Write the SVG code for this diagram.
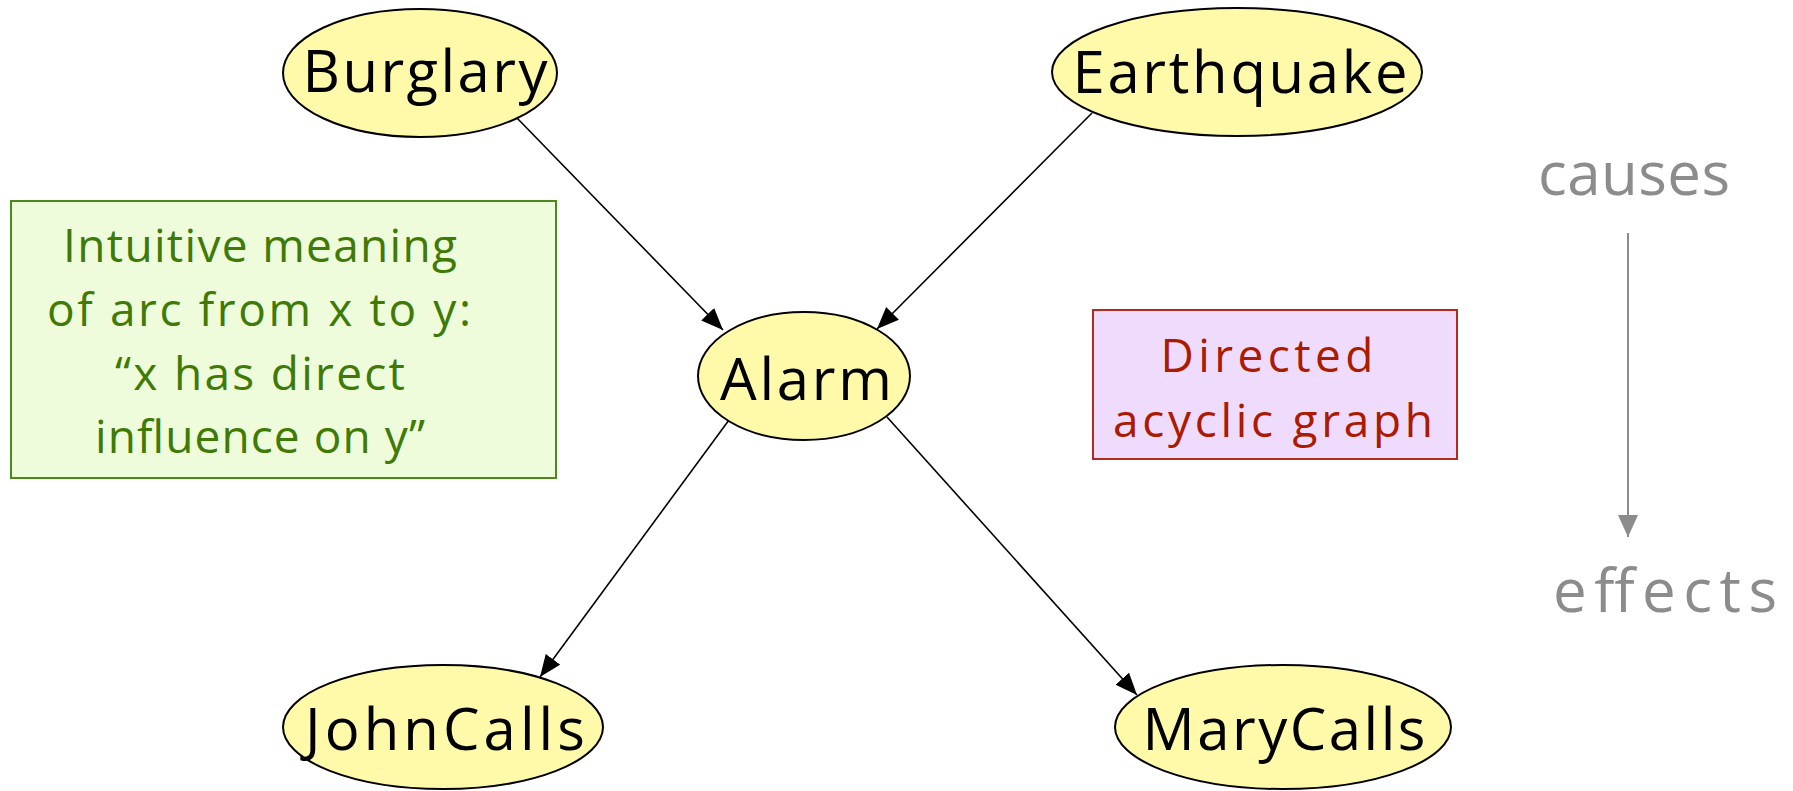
<svg xmlns="http://www.w3.org/2000/svg" width="1793" height="791" viewBox="0 0 1793 791">
  <style>
    .node { fill: #fffaaa; stroke: #000; stroke-width: 2; }
    .label { font-family: "Open Sans", "Liberation Sans", sans-serif; font-size: 58px; fill: #000; text-anchor: middle; }
    .edge { stroke: #000; stroke-width: 1.6; fill: none; marker-end: url(#arrow); }
    .note-green { fill: #eefcdc; stroke: #4a8a1a; stroke-width: 2; }
    .note-green-text { font-family: "Open Sans", "Liberation Sans", sans-serif; font-size: 46px; fill: #3f7a05; text-anchor: middle; }
    .note-red { fill: #efdcfd; stroke: #b42a1e; stroke-width: 2; }
    .note-red-text { font-family: "Open Sans", "Liberation Sans", sans-serif; font-size: 46px; fill: #ac1a00; text-anchor: middle; }
    .axis-text { font-family: "Open Sans", "Liberation Sans", sans-serif; font-size: 60px; fill: #8c8c8c; text-anchor: middle; }
    .axis { stroke: #8c8c8c; stroke-width: 2; fill: none; marker-end: url(#arrow-grey); }
  </style>
  <defs>
    <marker id="arrow" markerUnits="userSpaceOnUse" markerWidth="24" markerHeight="20" refX="22" refY="9" orient="auto">
      <path d="M0,0 L22,9 L0,18 Z" fill="#000"/>
    </marker>
    <marker id="arrow-grey" markerUnits="userSpaceOnUse" markerWidth="24" markerHeight="22" refX="22" refY="10" orient="auto">
      <path d="M0,0 L22,10 L0,20 Z" fill="#8c8c8c"/>
    </marker>
  </defs>

  <!-- arcs of the network -->
  <g id="connectors">
    <line class="edge" x1="517" y1="118" x2="723" y2="330"/>
    <line class="edge" x1="1092" y1="113" x2="877" y2="329"/>
    <line class="edge" x1="729" y1="420" x2="540" y2="677"/>
    <line class="edge" x1="887" y1="417" x2="1137" y2="695"/>
  </g>

  <g id="burglary">
    <ellipse class="node" cx="420" cy="73" rx="137" ry="64"/>
    <text class="label" x="425" y="92" textLength="245">Burglary</text>
  </g>
  <g id="earthquake">
    <ellipse class="node" cx="1237" cy="72" rx="185" ry="64"/>
    <text class="label" x="1240" y="93" textLength="335">Earthquake</text>
  </g>
  <g id="alarm">
    <ellipse class="node" cx="804" cy="376" rx="106" ry="64"/>
    <text class="label" x="806" y="400" textLength="172">Alarm</text>
  </g>
  <g id="johncalls">
    <ellipse class="node" cx="443" cy="727" rx="160" ry="62"/>
    <text class="label" x="445" y="750" textLength="280">JohnCalls</text>
  </g>
  <g id="marycalls">
    <ellipse class="node" cx="1283" cy="727" rx="168" ry="62"/>
    <text class="label" x="1284" y="750" textLength="283">MaryCalls</text>
  </g>

  <g id="meaning-note">
    <rect class="note-green" x="11" y="201" width="545" height="277"/>
    <text class="note-green-text" x="260" y="262" textLength="394">Intuitive meaning</text>
    <text class="note-green-text" x="259" y="326" textLength="424">of arc from x to y:</text>
    <text class="note-green-text" x="260" y="390" textLength="290">“x has direct</text>
    <text class="note-green-text" x="260" y="453" textLength="330">influence on y”</text>
  </g>

  <g id="dag-note">
    <rect class="note-red" x="1093" y="310" width="364" height="149"/>
    <text class="note-red-text" x="1267" y="372" textLength="213">Directed</text>
    <text class="note-red-text" x="1273" y="437" textLength="320">acyclic graph</text>
  </g>

  <g id="causes-effects">
    <text class="axis-text" x="1634" y="195" textLength="192">causes</text>
    <line class="axis" x1="1628" y1="233" x2="1628" y2="537"/>
    <text class="axis-text" x="1665" y="612" textLength="224">effects</text>
  </g>
</svg>
